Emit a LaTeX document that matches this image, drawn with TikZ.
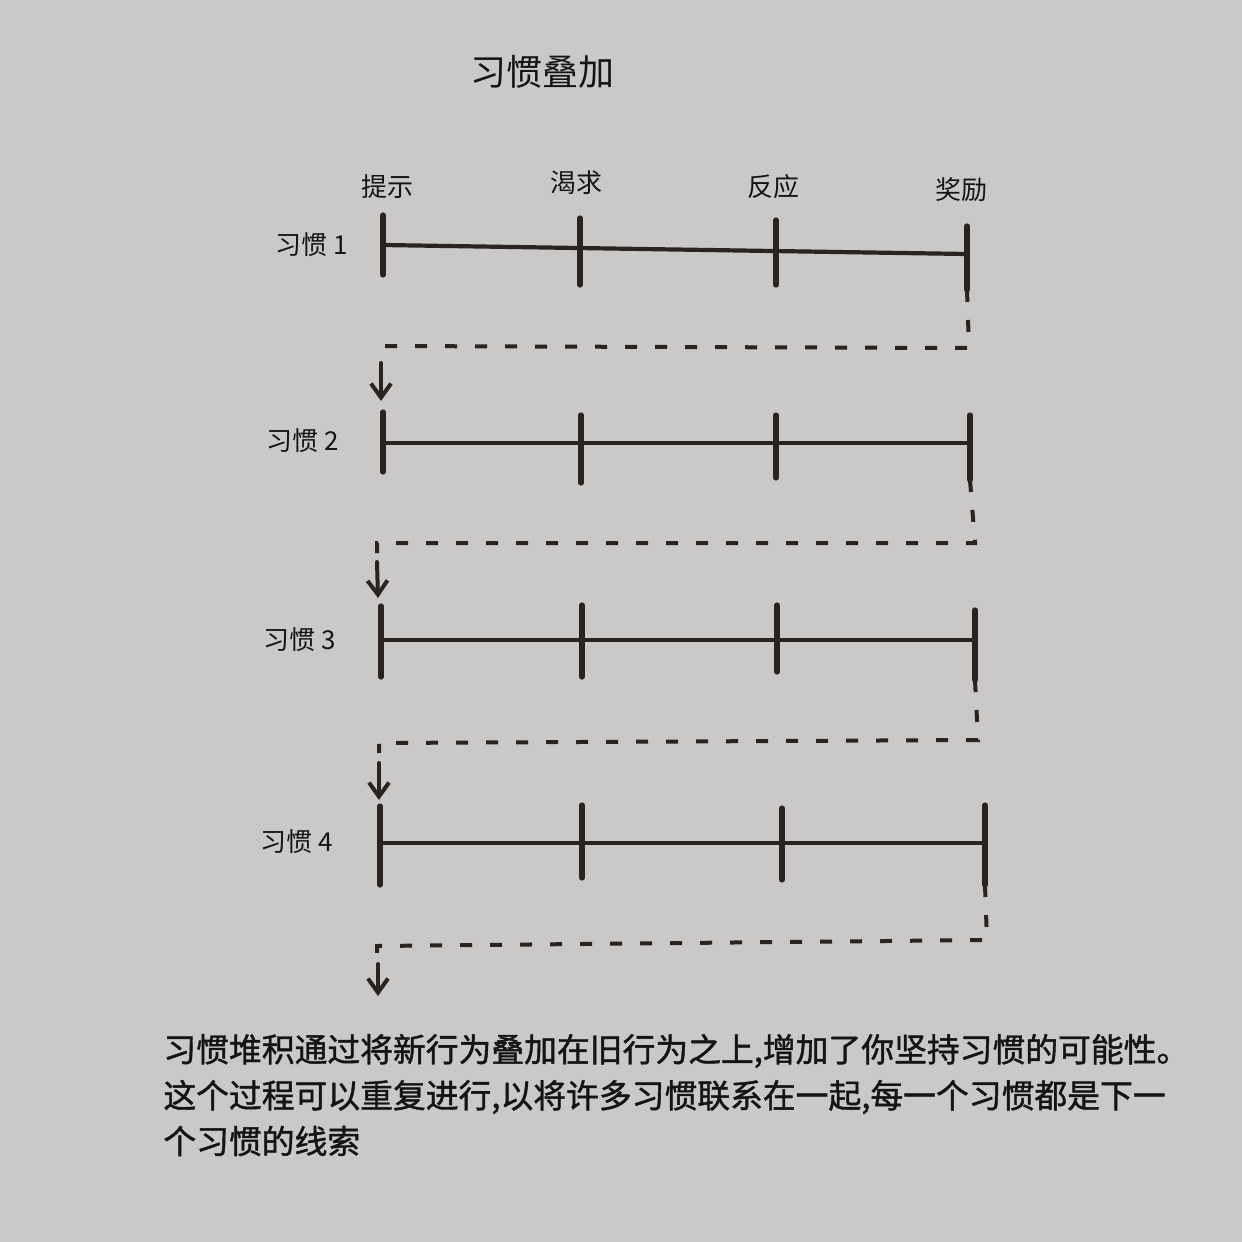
\documentclass[tikz,border=0pt]{standalone}
\usepackage{fontspec}
\newfontfamily\cjk{Noto Sans CJK SC}
\newfontfamily\cjkb[FakeBold=1.3]{Noto Sans CJK SC}
\usetikzlibrary{arrows.meta}
\definecolor{bgc}{HTML}{CBC8C8}
\definecolor{inkc}{HTML}{2B2321}
\definecolor{txtc}{HTML}{151414}
\begin{document}
\begin{tikzpicture}[x=0.5pt,y=-0.5pt,
  hline/.style={draw=inkc, line width=2.1pt, line cap=round},
  tickline/.style={draw=inkc, line width=2.6pt, line cap=round},
  dashlink/.style={draw=inkc, line width=2pt, dash pattern=on 6pt off 9pt},
  arrlink/.style={draw=inkc, line width=2pt, line cap=round, -{Straight Barb[length=7pt,width=10pt,line width=2pt]}},
  lbl/.style={font=\cjk\fontsize{13}{15}\selectfont, text=txtc, inner sep=0pt},
  captext/.style={font=\cjkb\fontsize{16.4}{18}\selectfont, text=txtc, inner sep=0pt, anchor=west},
]
\fill[bgc] (0,0) rectangle (1242,1242);

% title and column labels
\node[lbl, font=\cjk\fontsize{18}{20}\selectfont] (title) at (542,72) {习惯叠加};
\node[lbl] (cue) at (387,187) {提示};
\node[lbl] (craving) at (576,183) {渴求};
\node[lbl] (response) at (773,187) {反应};
\node[lbl] (reward) at (961,190) {奖励};

% habit labels
\node[lbl] (l1) at (312,245) {习惯\hspace{3pt}1};
\node[lbl] (l2) at (303,441) {习惯\hspace{3pt}2};
\node[lbl] (l3) at (300,640) {习惯\hspace{3pt}3};
\node[lbl] (l4) at (297,842) {习惯\hspace{3pt}4};

% ---------- habit 1
\coordinate (h1s) at (383,245); \coordinate (h1e) at (967,254);
\coordinate (t11a) at (383,215); \coordinate (t11b) at (383,275);
\coordinate (t12a) at (580,218); \coordinate (t12b) at (580,285);
\coordinate (t13a) at (776,220); \coordinate (t13b) at (776,285);
\coordinate (t14a) at (967,226); \coordinate (t14b) at (967,290);
\draw[hline] (h1s) -- (h1e);
\foreach \i in {1,...,4} \draw[tickline] (t1\i a) -- (t1\i b);

% ---------- habit 2
\coordinate (h2s) at (383,443); \coordinate (h2e) at (970,443);
\coordinate (t21a) at (383,412); \coordinate (t21b) at (383,472);
\coordinate (t22a) at (581,415); \coordinate (t22b) at (581,483);
\coordinate (t23a) at (776,415); \coordinate (t23b) at (776,478);
\coordinate (t24a) at (970,415); \coordinate (t24b) at (970,480);
\draw[hline] (h2s) -- (h2e);
\foreach \i in {1,...,4} \draw[tickline] (t2\i a) -- (t2\i b);

% ---------- habit 3
\coordinate (h3s) at (381,640); \coordinate (h3e) at (975,640);
\coordinate (t31a) at (381,606); \coordinate (t31b) at (381,677);
\coordinate (t32a) at (582,605); \coordinate (t32b) at (582,677);
\coordinate (t33a) at (777,605); \coordinate (t33b) at (777,672);
\coordinate (t34a) at (975,610); \coordinate (t34b) at (975,680);
\draw[hline] (h3s) -- (h3e);
\foreach \i in {1,...,4} \draw[tickline] (t3\i a) -- (t3\i b);

% ---------- habit 4
\coordinate (h4s) at (380,843); \coordinate (h4e) at (985,843);
\coordinate (t41a) at (380,806); \coordinate (t41b) at (380,885);
\coordinate (t42a) at (582,805); \coordinate (t42b) at (582,878);
\coordinate (t43a) at (782,808); \coordinate (t43b) at (782,880);
\coordinate (t44a) at (985,805); \coordinate (t44b) at (985,885);
\draw[hline] (h4s) -- (h4e);
\foreach \i in {1,...,4} \draw[tickline] (t4\i a) -- (t4\i b);

% ---------- dashed links
\coordinate (c1a) at (969,348); \coordinate (c1b) at (382,346);
\coordinate (c1c) at (382,356); \coordinate (a1s) at (381,363); \coordinate (a1e) at (381,401);
\draw[dashlink] (t14b) -- (c1a) -- (c1b) -- (c1c);
\draw[arrlink] (a1s) -- (a1e);

\coordinate (c2a) at (975,543); \coordinate (c2b) at (377,543);
\coordinate (c2c) at (377,553); \coordinate (a2s) at (377,562); \coordinate (a2e) at (378,598);
\draw[dashlink] (t24b) -- (c2a) -- (c2b) -- (c2c);
\draw[arrlink] (a2s) -- (a2e);

\coordinate (c3a) at (978,740); \coordinate (c3b) at (379,743);
\coordinate (c3c) at (379,753); \coordinate (a3s) at (379,763); \coordinate (a3e) at (379,800);
\draw[dashlink] (t34b) -- (c3a) -- (c3b) -- (c3c);
\draw[arrlink] (a3s) -- (a3e);

\coordinate (c4a) at (987,940); \coordinate (c4b) at (377,946);
\coordinate (c4c) at (377,958); \coordinate (a4s) at (378,964); \coordinate (a4e) at (378,996);
\draw[dashlink] (t44b) -- (c4a) -- (c4b) -- (c4c);
\draw[arrlink] (a4s) -- (a4e);

% ---------- caption
\node[captext] (cap1) at (163,1051) {习惯堆积通过将新行为叠加在旧行为之上,增加了你坚持习惯的可能性。};
\node[captext] (cap2) at (163,1097) {这个过程可以重复进行,以将许多习惯联系在一起,每一个习惯都是下一};
\node[captext] (cap3) at (163,1141) {个习惯的线索};
\end{tikzpicture}
\end{document}
